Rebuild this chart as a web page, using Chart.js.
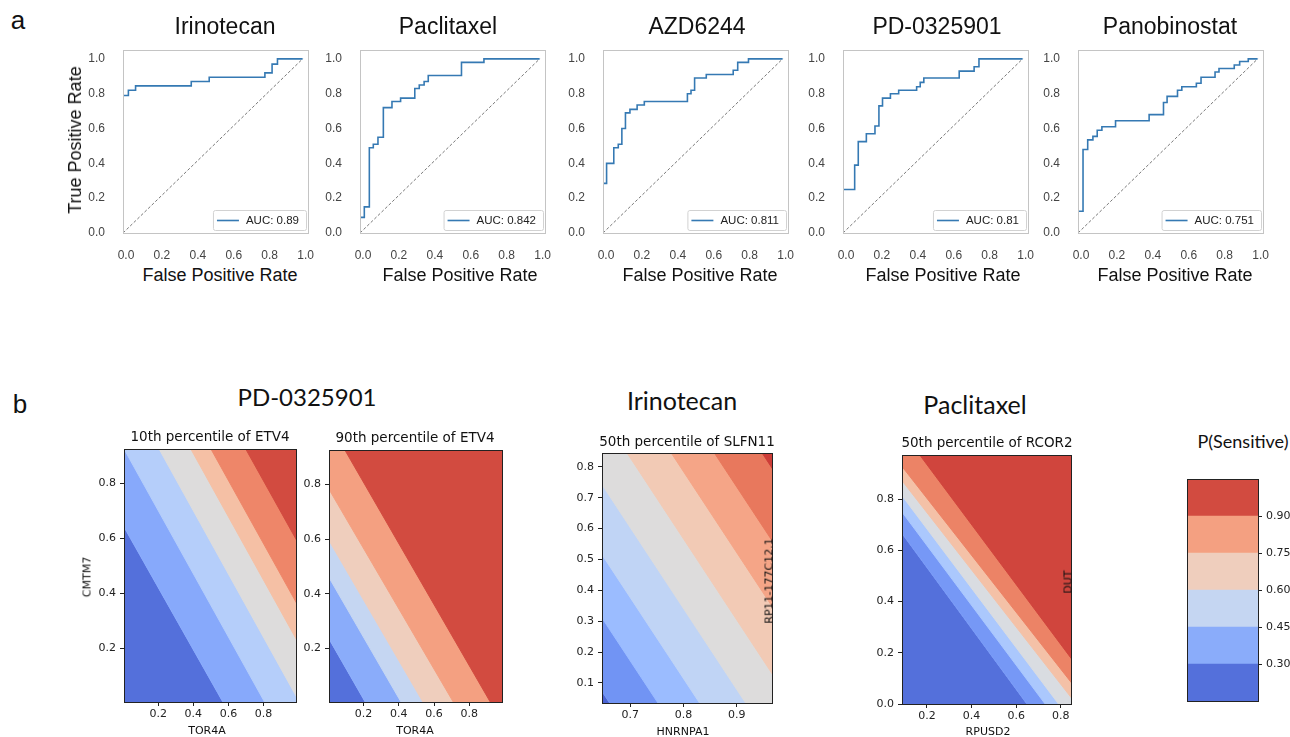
<!DOCTYPE html>
<html>
<head>
<meta charset="utf-8">
<script src="https://cdn.jsdelivr.net/npm/chart.js@4.4.1/dist/chart.umd.min.js"></script>
<style>
  body { margin: 0; background: #fff; }
  #fig { position: relative; width: 1290px; height: 737px; overflow: hidden; font-family: "Liberation Sans", Arial, sans-serif; color: #111; }
  .t { position: absolute; white-space: nowrap; transform: translate(-50%, -50%); line-height: 1; }
  .r { transform: translate(-50%, -50%) rotate(-90deg); }
  canvas { position: absolute; }
</style>
</head>
<body>
<div id="fig"></div>
<script>
// ===== a: ROC curves (corner points of each step) =====
const rocNames = ["Irinotecan", "Paclitaxel", "AZD6244", "PD-0325901", "Panobinostat"];
const rocAuc = [0.89, 0.842, 0.811, 0.81, 0.751];
const rocTicks = [0, 0.2, 0.4, 0.6, 0.8, 1.0];

const irinoFpr = [0, 0, 0.03, 0.07, 0.38, 0.48, 0.79, 0.83, 0.86, 1];
const irinoTpr = [0, 0.79, 0.82, 0.845, 0.87, 0.895, 0.92, 0.97, 1.0, 1.0];

const pacliFpr = [0, 0, 0.024, 0.052, 0.074, 0.1, 0.13, 0.178, 0.226, 0.305, 0.33, 0.357, 0.38, 0.565, 0.69, 1];
const pacliTpr = [0, 0.09, 0.15, 0.49, 0.51, 0.55, 0.72, 0.755, 0.775, 0.83, 0.85, 0.87, 0.905, 0.98, 1.0, 1.0];

const azdFpr = [0, 0, 0.02, 0.06, 0.085, 0.105, 0.125, 0.15, 0.19, 0.23, 0.47, 0.49, 0.51, 0.575, 0.725, 0.75, 0.81, 1];
const azdTpr = [0, 0.285, 0.4, 0.49, 0.51, 0.6, 0.69, 0.71, 0.735, 0.755, 0.8, 0.82, 0.89, 0.91, 0.935, 0.98, 1.0, 1.0];

const pdFpr = [0, 0, 0.065, 0.085, 0.13, 0.178, 0.2, 0.22, 0.264, 0.31, 0.41, 0.43, 0.45, 0.647, 0.73, 0.757, 1];
const pdTpr = [0, 0.25, 0.39, 0.525, 0.57, 0.615, 0.73, 0.775, 0.8, 0.82, 0.84, 0.865, 0.89, 0.93, 0.955, 1.0, 1.0];

const panoFpr = [0, 0, 0.028, 0.054, 0.083, 0.107, 0.133, 0.209, 0.396, 0.476, 0.496, 0.554, 0.578, 0.659, 0.685, 0.763, 0.785, 0.87, 0.9, 0.948, 1];
const panoTpr = [0, 0.125, 0.48, 0.535, 0.555, 0.59, 0.61, 0.645, 0.68, 0.75, 0.785, 0.82, 0.84, 0.86, 0.895, 0.925, 0.945, 0.965, 0.985, 1.0, 1.0];

const diagX = [0, 1];
const diagY = [0, 1];

// ===== b: contour boundaries, y value at the two x edges =====
const pdEdges = [0, 1];
const pd10Lines = [[0.647, -0.483], [0.931, -0.218], [1.161, 0.010], [1.369, 0.218], [1.500, 0.351], [1.725, 0.580]];
const pd90Lines = [[0.241, -0.883], [0.465, -0.649], [0.600, -0.508], [0.787, -0.316], [1.031, -0.086]];
const pdTicks = [0.2, 0.4, 0.6, 0.8];

const irinoEdges = [0.6, 1.0];
const irinoLines = [[0.196, -0.854], [0.434, -0.616], [0.639, -0.411], [0.866, -0.184], [1.092, 0.041], [1.310, 0.259], [1.522, 0.472], [1.758, 0.707]];
const irinoXTicks = [0.7, 0.8, 0.9];
const irinoYTicks = [0.1, 0.2, 0.3, 0.4, 0.5, 0.6, 0.7, 0.8];

const pacliEdges = [0, 1];
const pacliLines = [[0.770, -0.418], [0.852, -0.315], [0.915, -0.243], [0.970, -0.146], [1.025, -0.086], [1.168, -0.001]];
const pacliXTicks = [0.2, 0.4, 0.6, 0.8];
const pacliYTicks = [0.0, 0.2, 0.4, 0.6, 0.8];

const cbEdges = [0.15, 0.30, 0.45, 0.60, 0.75, 0.90, 1.05];
const cbTicks = [0.30, 0.45, 0.60, 0.75, 0.90];

// band colours (coolwarm steps)
const pd10Colors = ["#5470db", "#87a9fb", "#b5cefa", "#dddcdc", "#f5c0a5", "#ee8669", "#d24b40"];
const pd90Colors = ["#5470db", "#8aacfa", "#c5d6f2", "#efcebd", "#f4a081", "#d24b40"];
const irinoColors = ["#4a63d3", "#7194f4", "#9bbcff", "#c0d4f5", "#dddcdc", "#f2cab5", "#f5a587", "#e8785d", "#cc3d38"];
const pacliColors = ["#5470db", "#7698f6", "#abc8fd", "#d9dce1", "#f4c1a7", "#ec8366", "#d0453d"];
const cbColors = pd90Colors;

Chart.defaults.font.family = "'Liberation Sans', Arial, sans-serif";
Chart.defaults.animation = false;

const fig = document.getElementById("fig");

function makeCanvas(area, pl, pt, pr, pb) {
  const c = document.createElement("canvas");
  const w = area.w + pl + pr, h = area.h + pt + pb;
  c.width = w; c.height = h;
  c.style.left = (area.l - pl) + "px";
  c.style.top = (area.t - pt) + "px";
  c.style.width = w + "px";
  c.style.height = h + "px";
  fig.appendChild(c);
  return c;
}

function frameAxis(pos, color) {
  return {
    type: "linear", position: pos, display: true, min: 0, max: 1,
    ticks: { display: false }, grid: { display: false },
    border: { color: color, z: 1 },
    afterFit: s => { if (pos === "top" || pos === "bottom") s.height = 0; else s.width = 0; }
  };
}

function fixedTicks(list) {
  return s => { s.ticks = list.map(v => ({ value: v })); };
}

// legend box in the lower right corner of a ROC plot
const rocLegend = {
  id: "rocLegend",
  afterDraw(chart) {
    const ds = chart.data.datasets[0];
    const { ctx, chartArea: a } = chart;
    ctx.save();
    ctx.font = "11.5px 'Liberation Sans', Arial, sans-serif";
    const tw = ctx.measureText(ds.label).width;
    const w = tw + 40, h = 20;
    const x = a.right - w - 2, y = a.bottom - h - 3;
    ctx.fillStyle = "rgba(255,255,255,0.85)";
    ctx.strokeStyle = "#d2d2d2";
    ctx.lineWidth = 1;
    ctx.beginPath();
    if (ctx.roundRect) ctx.roundRect(x + 0.5, y + 0.5, w, h, 2); else ctx.rect(x + 0.5, y + 0.5, w, h);
    ctx.fill(); ctx.stroke();
    ctx.strokeStyle = ds.borderColor;
    ctx.lineWidth = 1.6;
    ctx.beginPath(); ctx.moveTo(x + 4, y + h / 2 + 0.5); ctx.lineTo(x + 26, y + h / 2 + 0.5); ctx.stroke();
    ctx.fillStyle = "#222";
    ctx.textBaseline = "middle";
    ctx.fillText(ds.label, x + 33, y + h / 2 + 1);
    ctx.restore();
  }
};

const rocLeft = [123, 360, 603, 843, 1078];

function rocChart(i, fpr, tpr) {
  const area = { l: rocLeft[i], t: 47, w: 185, h: 186 };
  const cv = makeCanvas(area, 42, 14, 14, 32);
  const tickFont = { size: 12, family: "'Liberation Sans', Arial, sans-serif" };
  new Chart(cv, {
    type: "line",
    data: {
      datasets: [
        { label: "AUC: " + rocAuc[i], data: fpr.map((x, k) => ({ x: x, y: tpr[k] })), stepped: true,
          borderColor: "#3579b3", borderWidth: 1.6, pointRadius: 0, fill: false },
        { label: "chance", data: diagX.map((x, k) => ({ x: x, y: diagY[k] })),
          borderColor: "#555", borderWidth: 0.8, borderDash: [3, 2], pointRadius: 0, fill: false }
      ]
    },
    options: {
      responsive: false, events: [],
      layout: { padding: { left: 0, top: 14, right: 14, bottom: 0 } },
      plugins: { legend: { display: false }, tooltip: { enabled: false } },
      scales: {
        x: { type: "linear", min: 0, max: 1.03, afterBuildTicks: fixedTicks(rocTicks),
             ticks: { callback: v => v.toFixed(1), font: tickFont, color: "#444", padding: 7, labelOffset: 3, maxRotation: 0, autoSkip: false },
             grid: { display: false }, border: { color: "#c4c4c4", z: 1 }, afterFit: s => { s.height = 32; } },
        y: { type: "linear", min: 0, max: 1.05, afterBuildTicks: fixedTicks(rocTicks),
             ticks: { callback: v => v.toFixed(1), font: tickFont, color: "#444", padding: 10, autoSkip: false },
             grid: { display: false }, border: { color: "#c4c4c4", z: 1 }, afterFit: s => { s.width = 42; } },
        x2: frameAxis("top", "#c4c4c4"),
        y2: frameAxis("right", "#c4c4c4")
      }
    },
    plugins: [rocLegend]
  });
}

rocChart(0, irinoFpr, irinoTpr);
rocChart(1, pacliFpr, pacliTpr);
rocChart(2, azdFpr, azdTpr);
rocChart(3, pdFpr, pdTpr);
rocChart(4, panoFpr, panoTpr);

// ===== contour panels =====
const dvFont = { size: 11, family: "'DejaVu Sans', sans-serif" };
const tickMarks = { display: true, drawOnChartArea: false, drawTicks: true, tickLength: 4, color: "#222" };

function contourChart(area, xr, yr, edges, lines, colors, xTicks, yTicks) {
  const cv = makeCanvas(area, 36, 14, 14, 26);
  const pts = lines.map(l => [{ x: edges[0], y: l[0] }, { x: edges[1], y: l[1] }]);
  const datasets = [{ data: pts[0], fill: "start", backgroundColor: colors[0], borderWidth: 0, pointRadius: 0, order: colors.length }];
  lines.forEach((l, i) => {
    datasets.push({ data: pts[i], fill: "end", backgroundColor: colors[i + 1], borderColor: colors[i + 1],
                    borderWidth: 1, pointRadius: 0, order: colors.length - 1 - i });
  });
  new Chart(cv, {
    type: "line",
    data: { datasets: datasets },
    options: {
      responsive: false, events: [],
      layout: { padding: { left: 0, top: 14, right: 14, bottom: 0 } },
      plugins: { legend: { display: false }, tooltip: { enabled: false } },
      scales: {
        x: { type: "linear", min: xr[0], max: xr[1], afterBuildTicks: fixedTicks(xTicks),
             ticks: { callback: v => v.toFixed(1), font: dvFont, color: "#222", padding: 2, maxRotation: 0, autoSkip: false },
             grid: tickMarks, border: { color: "#222", z: 1 }, afterFit: s => { s.height = 26; } },
        y: { type: "linear", min: yr[0], max: yr[1], afterBuildTicks: fixedTicks(yTicks),
             ticks: { callback: v => v.toFixed(1), font: dvFont, color: "#222", padding: 4, autoSkip: false },
             grid: tickMarks, border: { color: "#222", z: 1 }, afterFit: s => { s.width = 36; } },
        x2: frameAxis("top", "#222"),
        y2: frameAxis("right", "#222")
      }
    }
  });
}

contourChart({ l: 124, t: 449, w: 172, h: 253 }, [0.005, 0.985], [0.005, 0.925], pdEdges, pd10Lines, pd10Colors, pdTicks, pdTicks);
contourChart({ l: 329, t: 450, w: 173, h: 252 }, [0.005, 0.985], [0.005, 0.925], pdEdges, pd90Lines, pd90Colors, pdTicks, pdTicks);
contourChart({ l: 602, t: 453, w: 170, h: 250 }, [0.647, 0.966], [0.035, 0.845], irinoEdges, irinoLines, irinoColors, irinoXTicks, irinoYTicks);
contourChart({ l: 902, t: 455, w: 169, h: 249 }, [0.088, 0.846], [0.0, 0.972], pacliEdges, pacliLines, pacliColors, pacliXTicks, pacliYTicks);

// ===== colour bar =====
(function () {
  const area = { l: 1187, t: 479, w: 71, h: 222 };
  const cv = makeCanvas(area, 1, 14, 32, 14);
  const datasets = cbColors.map((c, i) => ({
    data: [[cbEdges[i], cbEdges[i + 1]]], backgroundColor: c, borderWidth: 0,
    barPercentage: 1, categoryPercentage: 1, grouped: false
  }));
  new Chart(cv, {
    type: "bar",
    data: { labels: ["P(Sensitive)"], datasets: datasets },
    options: {
      responsive: false, events: [],
      layout: { padding: { left: 1, top: 14, right: 0, bottom: 14 } },
      plugins: { legend: { display: false }, tooltip: { enabled: false } },
      scales: {
        x: { display: true, ticks: { display: false }, grid: { display: false }, border: { color: "#222", z: 1 },
             afterFit: s => { s.height = 0; } },
        y: { type: "linear", position: "right", min: cbEdges[0], max: cbEdges[cbEdges.length - 1], afterBuildTicks: fixedTicks(cbTicks),
             ticks: { callback: v => v.toFixed(2), font: dvFont, color: "#222", padding: 4, autoSkip: false },
             grid: tickMarks, border: { color: "#222", z: 1 }, afterFit: s => { s.width = 32; } },
        x2: frameAxis("top", "#222"),
        y2: frameAxis("left", "#222")
      }
    }
  });
})();

// ===== text =====
const arial = "'Liberation Sans', Arial, sans-serif";
const dejavu = "'DejaVu Sans', sans-serif";
const lato = "Lato, 'Open Sans', sans-serif";
function label(txt, x, y, size, family, rot) {
  const d = document.createElement("div");
  d.className = "t" + (rot ? " r" : "");
  d.textContent = txt;
  d.style.left = x + "px";
  d.style.top = y + "px";
  d.style.fontSize = size + "px";
  d.style.fontFamily = family;
  fig.appendChild(d);
}

label("a", 18, 20, 26, arial);
label("b", 20, 404, 26, arial);
const rocTitleX = [225, 448, 697, 937, 1170];
const rocXLabelX = [220, 460, 700, 943, 1175];
rocNames.forEach((n, i) => {
  label(n, rocTitleX[i], 26, 23, arial);
  label("False Positive Rate", rocXLabelX[i], 275, 18, arial);
});
label("True Positive Rate", 75, 140, 18, arial, true);

label("PD-0325901", 307, 397, 24, lato);
label("Irinotecan", 682, 400, 25, lato);
label("Paclitaxel", 975, 404, 25, lato);
label("P(Sensitive)", 1243, 441, 18, lato);

label("10th percentile of ETV4", 210, 437, 13.5, dejavu);
label("90th percentile of ETV4", 415, 438, 13.5, dejavu);
label("50th percentile of SLFN11", 687, 442, 13.5, dejavu);
label("50th percentile of RCOR2", 987, 443, 13.5, dejavu);

label("TOR4A", 207, 730, 11, dejavu);
label("TOR4A", 415, 730, 11, dejavu);
label("HNRNPA1", 683, 731, 11, dejavu);
label("RPUSD2", 988, 731, 11, dejavu);
label("CMTM7", 87, 577, 11, dejavu, true);
label("RP11-177C12.1", 769, 581, 11, dejavu, true);
label("DUT", 1068, 582, 11, dejavu, true);
</script>
</body>
</html>
